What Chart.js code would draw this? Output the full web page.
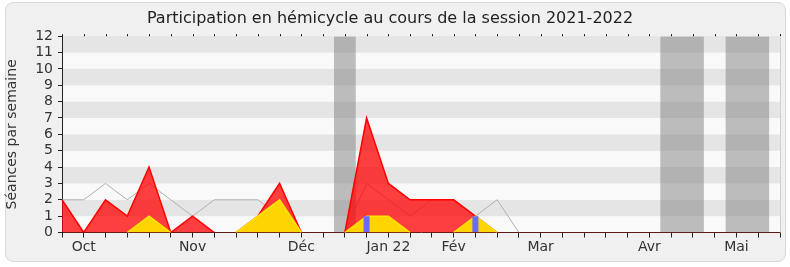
<!DOCTYPE html>
<html>
<head>
<meta charset="utf-8">
<script src="https://cdn.jsdelivr.net/npm/chart.js@4/dist/chart.umd.min.js"></script>
<style>
  body { margin: 0; background: #fff; }
  #frame {
    position: absolute; left: 5px; top: 2px; width: 779px; height: 258px;
    background: #f0f0f0; border: 1px solid #d9d9d9; border-radius: 8px;
  }
  #chart { position: absolute; left: 0; top: 0; }
</style>
</head>
<body>
<div id="frame"></div>
<canvas id="chart" width="790" height="267"></canvas>
<script>
// weeks of the 2021-2022 session (week start)
const weeks = ['27/09', '04/10', '11/10', '18/10', '25/10', '01/11', '08/11', '15/11', '22/11', '29/11',
    '06/12', '13/12', '20/12', '27/12', '03/01', '10/01', '17/01', '24/01', '31/01', '07/02',
    '14/02', '21/02', '28/02', '07/03', '14/03', '21/03', '28/03', '04/04', '11/04', '18/04',
    '25/04', '02/05', '09/05', '16/05'];

// month names shown under the axis, by week index
const monthTicks = { 1: 'Oct', 6: 'Nov', 11: 'Déc', 15: 'Jan 22', 18: 'Fév', 22: 'Mar', 27: 'Avr', 31: 'Mai' };

const presences = [2, 0, 2, 1, 4, 0, 1, 0, 0, 1, 3, 0, 0, 0, 7, 3, 2, 2, 2, 1,
    0, 0, 0, 0, 0, 0, 0, 0, 0, 0, 0, 0, 0, 0];
const interventions = [0, 0, 0, 0, 1, 0, 0, 0, 0, 1, 2, 0, 0, 0, 1, 1, 0, 0, 0, 1,
    0, 0, 0, 0, 0, 0, 0, 0, 0, 0, 0, 0, 0, 0];
const mediane = [2, 2, 3, 2, 3, 2, 1, 2, 2, 2, 1, 0, 0, 0, 3, 2, 1, 2, 2, 1,
    2, 0, 0, 0, 0, 0, 0, 0, 0, 0, 0, 0, 0, 0];
const questions = [null, null, null, null, null, null, null, null, null, null, null, null, null, null, 1, null, null, null, null, 1,
    null, null, null, null, null, null, null, null, null, null, null, null, null, null];
// weeks without sittings (holidays): 12 = full column
const vacances = [0, 0, 0, 0, 0, 0, 0, 0, 0, 0, 0, 0, 0, 12, 0, 0, 0, 0, 0, 0,
    0, 0, 0, 0, 0, 0, 0, 0, 12, 12, 0, 12, 12, 0];

Chart.defaults.font.family = 'DejaVu Sans';
Chart.defaults.color = '#333';

// hide line segments lying flat on the zero baseline
const hideFlatZero = {
    borderColor: function (ctx) {
        if (ctx.p0.parsed.y === 0 && ctx.p1.parsed.y === 0) return 'rgba(0,0,0,0)';
        return undefined;
    }
};

const bandsPlugin = {
    id: 'bands',
    beforeDraw: function (chart) {
        const ctx = chart.ctx;
        const area = chart.chartArea;
        const y = chart.scales.y;
        ctx.save();
        for (let v = 0; v < 12; v++) {
            const top = y.getPixelForValue(v + 1);
            const bottom = y.getPixelForValue(v);
            ctx.fillStyle = (v % 2 === 0) ? '#f9f9f9' : '#e5e5e5';
            ctx.fillRect(area.left, top, area.right - area.left, bottom - top);
        }
        ctx.restore();
    },
    afterDraw: function (chart) {
        const ctx = chart.ctx;
        const area = chart.chartArea;
        const x = chart.scales.x;
        ctx.save();
        ctx.fillStyle = '#111';
        for (let i = 0; i < weeks.length; i++) {
            const px = Math.round(x.getPixelForTick(i));
            ctx.fillRect(px, area.top - 2, 1, 2);
        }
        ctx.strokeStyle = '#d0d0d0';
        ctx.lineWidth = 1;
        ctx.beginPath();
        ctx.moveTo(area.right + 0.5, area.top);
        ctx.lineTo(area.right + 0.5, area.bottom);
        ctx.stroke();
        ctx.restore();
    }
};

new Chart(document.getElementById('chart'), {
    type: 'line',
    data: {
        labels: weeks,
        datasets: [
            {
                label: 'Vacances',
                data: vacances,
                stepped: 'middle',
                borderWidth: 0,
                borderColor: 'rgba(0,0,0,0)',
                backgroundColor: 'rgba(128, 128, 128, 0.5)',
                pointRadius: 0,
                fill: 'origin',
                order: 10
            },
            {
                label: 'Médiane',
                data: mediane,
                borderColor: '#b0b0b0',
                borderWidth: 1,
                pointRadius: 0,
                tension: 0,
                fill: false,
                segment: hideFlatZero,
                order: 5
            },
            {
                label: 'Présences',
                data: presences,
                borderColor: '#ff0000',
                borderWidth: 1.5,
                backgroundColor: 'rgba(255, 0, 0, 0.75)',
                pointRadius: 0,
                tension: 0,
                fill: 'origin',
                segment: hideFlatZero,
                order: 4
            },
            {
                label: 'Interventions',
                data: interventions,
                borderColor: '#ffe600',
                borderWidth: 1.5,
                backgroundColor: '#ffd400',
                pointRadius: 0,
                tension: 0,
                fill: 'origin',
                segment: hideFlatZero,
                order: 3
            },
            {
                type: 'bar',
                label: 'Questions',
                data: questions,
                backgroundColor: '#6a6aff',
                barThickness: 6,
                inflateAmount: 0,
                grouped: false,
                order: 2
            }
        ]
    },
    plugins: [bandsPlugin],
    options: {
        responsive: false,
        animation: false,
        layout: { padding: { left: 0, right: 10, top: 0, bottom: 0 } },
        scales: {
            x: {
                offset: false,
                z: 1,
                afterFit: function (scale) { scale.height = 34.5; },
                grid: {
                    offset: false,
                    drawOnChartArea: false,
                    tickLength: 5,
                    color: '#222'
                },
                border: { color: '#5a1a1a', width: 1 },
                ticks: {
                    autoSkip: false,
                    maxRotation: 0,
                    padding: 1,
                    font: { size: 14 },
                    callback: function (value, index) {
                        return monthTicks[index] || '';
                    }
                }
            },
            y: {
                min: 0,
                max: 12,
                z: 1,
                afterFit: function (scale) { scale.width = 62; },
                grid: {
                    drawOnChartArea: false,
                    tickLength: 4,
                    color: '#222'
                },
                border: { color: '#222', width: 1 },
                ticks: {
                    stepSize: 1,
                    autoSkip: false,
                    padding: 5,
                    font: { size: 14 }
                },
                title: {
                    display: true,
                    text: 'Séances par semaine',
                    font: { size: 14 },
                    padding: { top: 4, bottom: 0 }
                }
            }
        },
        plugins: {
            legend: { display: false },
            tooltip: { enabled: false },
            title: {
                display: true,
                text: 'Participation en hémicycle au cours de la session 2021-2022',
                color: '#222',
                font: { size: 16, weight: 'normal' },
                padding: { top: 9, bottom: 8 }
            }
        }
    }
});
</script>
</body>
</html>
